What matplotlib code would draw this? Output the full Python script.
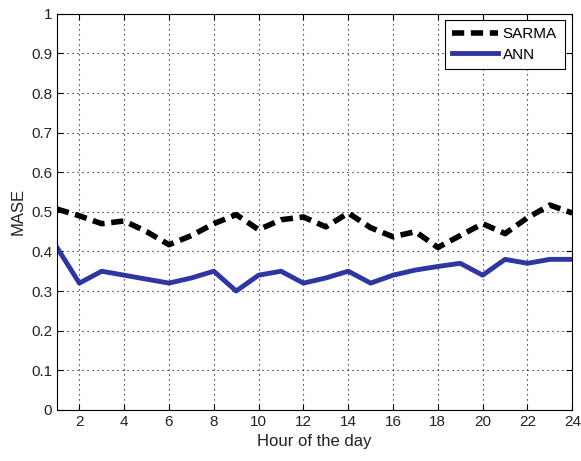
import matplotlib
matplotlib.use("Agg")
import matplotlib.pyplot as plt

hours = list(range(1, 25))
sarma = [0.507, 0.49, 0.47, 0.477, 0.45, 0.417, 0.44, 0.47, 0.493, 0.455, 0.48, 0.487,
         0.462, 0.497, 0.46, 0.437, 0.45, 0.41, 0.44, 0.47, 0.445, 0.485, 0.517, 0.497]
ann = [0.41, 0.32, 0.35, 0.34, 0.33, 0.32, 0.333, 0.35, 0.30, 0.34, 0.35, 0.32,
       0.333, 0.35, 0.32, 0.34, 0.353, 0.362, 0.37, 0.34, 0.38, 0.37, 0.38, 0.38]
xticks = list(range(2, 25, 2))
yticks = [round(0.1 * i, 1) for i in range(11)]
ytick_labels = ["0", "0.1", "0.2", "0.3", "0.4", "0.5", "0.6", "0.7", "0.8", "0.9", "1"]

plt.rcParams['font.family'] = ['Liberation Sans', 'DejaVu Sans']
fig = plt.figure(figsize=(5.81, 4.61), dpi=100)
ax = fig.add_axes([0.098, 0.111, 0.887, 0.859])

ax.plot(hours, sarma, color='black', linewidth=4, linestyle=(0, (2.2, 1.2)), label='SARMA')
ax.plot(hours, ann, color='#2f35a3', linewidth=3.5, label='ANN')

ax.set_xlim(1, 24)
ax.set_ylim(0, 1)
ax.set_xticks(xticks)
ax.set_yticks(yticks)
ax.set_yticklabels(ytick_labels)
ax.tick_params(direction='in', top=True, right=True, labelsize=11, length=4,
               labelcolor='#222222')
ax.grid(True, linestyle=(0, (1, 3.5)), color='black', linewidth=0.8)
ax.set_xlabel('Hour of the day', fontsize=12, color='#222222')
ax.set_ylabel('MASE', fontsize=12, color='#222222')
for s in ax.spines.values():
    s.set_linewidth(0.8)

leg = ax.legend(loc='upper right', fontsize=11, fancybox=False, edgecolor='black',
                framealpha=1, handlelength=3, borderpad=0.5, labelspacing=0.4,
                handletextpad=0.3, borderaxespad=0, bbox_to_anchor=(0.985, 0.985))
leg.get_frame().set_linewidth(0.8)

fig.savefig('out.png', dpi=100)
